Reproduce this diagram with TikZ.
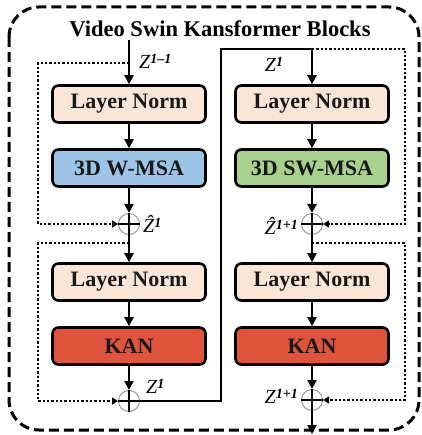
\documentclass[tikz,border=0pt]{standalone}
\usepackage{fontspec}
\setmainfont{Liberation Serif}
\usetikzlibrary{arrows.meta}
\definecolor{lnfill}{HTML}{FBE5D6}
\definecolor{msafill}{HTML}{9DC3E6}
\definecolor{swfill}{HTML}{A9D18E}
\definecolor{kanfill}{HTML}{E0533D}
\newcommand{\zlab}[2]{{\fontsize{20}{20}\selectfont\textit{#1}}\raisebox{1.05ex}{\fontsize{14}{14}\selectfont\bfseries\itshape #2}}
\begin{document}
\begin{tikzpicture}[x=1pt,y=-1pt,
  blockbox/.style={draw=black,line width=2.6pt,rounded corners=6pt,minimum width=153pt,minimum height=37pt,inner sep=0pt,font=\fontsize{22}{24}\selectfont\bfseries,text=black!90},
  addnode/.style={draw=gray!80,line width=1pt,circle,minimum size=21pt,inner sep=0pt},
  arr/.style={line width=2.5pt,-{Triangle[length=9pt,width=9pt]}},
  solidline/.style={line width=2.5pt},
  dotline/.style={line width=2.3pt,dash pattern=on 2.3pt off 2pt},
  dotarr/.style={dotline,-{Triangle[length=6pt,width=7pt]}},
  outer/.style={line width=3pt,dash pattern=on 10pt off 5pt,rounded corners=30pt},
  lab/.style={inner sep=0pt}
]
\useasboundingbox (0,0) rectangle (421,435);
\draw[outer] (9,7) rectangle (419,430);
\node[lab,anchor=base,font=\fontsize{22.5}{24}\selectfont\bfseries] (title) at (220,37) {Video Swin Kansformer Blocks};

% left column
\node[blockbox,fill=lnfill] (ln1) at (129,104) {Layer Norm};
\node[blockbox,fill=msafill] (msa) at (129,168) {3D W-MSA};
\node[addnode] (c1) at (129,224) {};
\node[blockbox,fill=lnfill] (ln2) at (129,282) {Layer Norm};
\node[blockbox,fill=kanfill] (kan1) at (129,346) {KAN};
\node[addnode] (c2) at (129,401) {};

% right column
\node[blockbox,fill=lnfill] (ln3) at (312,104) {Layer Norm};
\node[blockbox,fill=swfill] (sw) at (312,168) {3D SW-MSA};
\node[addnode] (c3) at (312,224) {};
\node[blockbox,fill=lnfill] (ln4) at (312,282) {Layer Norm};
\node[blockbox,fill=kanfill] (kan2) at (312,346) {KAN};
\node[addnode] (c4) at (312,400) {};

% coordinates
\coordinate (in) at (129,40);
\coordinate (s1) at (129,63);
\coordinate (s2) at (129,243);
\coordinate (s3) at (312,49);
\coordinate (s4) at (312,243);
\coordinate (out) at (312,434);

% main flow left
\draw[arr] (in) -- (ln1.north);
\draw[arr] (ln1.south) -- (msa.north);
\draw[arr] (msa.south) -- (c1.north);
\draw[arr] (c1.north) -- (ln2.north);
\draw[arr] (ln2.south) -- (kan1.north);
\draw[arr] (kan1.south) -- (c2.north);
\draw[solidline] (c2.north) -- (c2.south);
% main flow right
\draw[solidline] (c2.east) -- (221,401) -- (221,49) -- (s3);
\draw[arr] (s3) -- (ln3.north);
\draw[arr] (ln3.south) -- (sw.north);
\draw[arr] (sw.south) -- (c3.north);
\draw[arr] (c3.north) -- (ln4.north);
\draw[arr] (ln4.south) -- (kan2.north);
\draw[arr] (kan2.south) -- (c4.north);
\draw[arr] (c4.north) -- (out);

% plus bars
\draw[line width=1.3pt] (c1.west) -- (c1.east);
\draw[line width=1.3pt] (c2.west) -- (c2.east);
\draw[line width=1.3pt] (c3.west) -- (c3.east);
\draw[line width=1.3pt] (c4.west) -- (c4.east);

% skip connections
\draw[dotarr] (s1) -- (38,63) -- (38,224) -- (c1.west);
\draw[dotarr] (s3) -- (405,49) -- (405,224) -- (c3.east);
\draw[dotarr] (s2) -- (38,243) -- (38,401) -- (c2.west);
\draw[dotarr] (s4) -- (405,243) -- (405,400) -- (c4.east);

% labels
\node[lab,anchor=west] (zin) at (139,61) {\zlab{Z}{1–1}};
\node[lab] (zmid) at (274,64) {\zlab{Z}{1}};
\node[lab,anchor=west] (zh1) at (143,224) {\zlab{\^{Z}}{1}};
\node[lab,anchor=east] (zh2) at (298,226) {\zlab{\^{Z}}{1+1}};
\node[lab,anchor=west] (zo1) at (146,386) {\zlab{Z}{1}};
\node[lab,anchor=east] (zo2) at (298,396) {\zlab{Z}{1+1}};
\end{tikzpicture}
\end{document}
